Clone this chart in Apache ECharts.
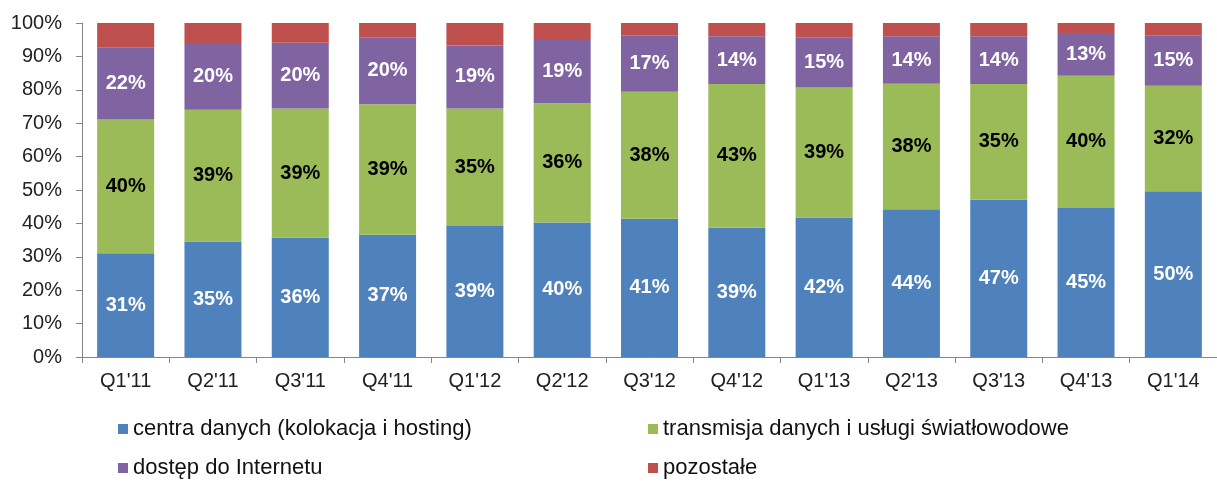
<!DOCTYPE html>
<html>
<head>
<meta charset="utf-8">
<script src="https://cdn.jsdelivr.net/npm/echarts@6/dist/echarts.min.js"></script>
<style>
html,body{margin:0;padding:0;background:#fff;}
#main{width:1217px;height:483px;}
</style>
</head>
<body>
<div id="main"></div>
<script>
// kwartały
var kwartaly=["Q1'11","Q2'11","Q3'11","Q4'11","Q1'12","Q2'12","Q3'12","Q4'12","Q1'13","Q2'13","Q3'13","Q4'13","Q1'14"];
// udział w przychodach (%)
var centraDanych=[31.1,34.6,35.7,36.6,39.2,40.3,41.4,38.7,41.8,44.2,47.1,44.6,49.6];
var transmisja=[40.0,39.4,38.7,39.1,35.2,35.7,38.0,43.0,38.9,37.6,34.6,39.6,31.6];
var dostep=[21.5,19.7,19.7,19.9,18.9,19.2,16.9,14.3,14.9,14.2,14.3,12.8,15.0];
var pozostale=[7.4,6.3,5.9,4.4,6.7,4.8,3.7,4.0,4.4,4.0,4.0,3.0,3.8];
var nazwy=["centra danych (kolokacja i hosting)","transmisja danych i usługi światłowodowe","dostęp do Internetu","pozostałe"];
var yTicks=["0%","10%","20%","30%","40%","50%","60%","70%","80%","90%","100%"];

var font='"Liberation Sans", Arial, sans-serif';

function etykieta(kolor){
	return {
		show:true,
		position:'inside',
		color:kolor,
		fontFamily:font,
		fontSize:20,
		fontWeight:'bold',
		formatter:function(p){return Math.round(p.value)+'%';}
	};
}

function legenda(nazwa,left,top){
	return {
		data:[nazwa],
		left:left,
		top:top,
		icon:'rect',
		itemWidth:10,
		itemHeight:10,
		selectedMode:false,
		textStyle:{fontFamily:font,fontSize:22,color:'#111'}
	};
}

var myChart=echarts.init(document.getElementById('main'));
var option={
	backgroundColor:'#fff',
	animation:false,
	color:['#4F81BD','#9BBB59','#8064A2','#C0504D'],
	legend:[
		legenda(nazwy[0],113,413),
		legenda(nazwy[1],643,413),
		legenda(nazwy[2],113,452),
		legenda(nazwy[3],643,452)
	],
	grid:{left:82,top:23,width:1140,bottom:126},
	xAxis:{
		type:'category',
		data:kwartaly,
		axisLine:{lineStyle:{color:'#868686'}},
		axisTick:{show:true,length:6,lineStyle:{color:'#868686'}},
		axisLabel:{color:'#222',fontFamily:font,fontSize:20,margin:14}
	},
	yAxis:{
		type:'value',
		min:0,
		max:100,
		interval:10,
		axisLine:{show:true,lineStyle:{color:'#868686'}},
		axisTick:{show:true,length:6,lineStyle:{color:'#868686'}},
		splitLine:{show:false},
		axisLabel:{
			color:'#222',fontFamily:font,fontSize:20,margin:20,
			formatter:function(v){return yTicks[Math.round(v/10)];}
		}
	},
	series:[
		{name:nazwy[0],type:'bar',stack:'s',barWidth:57,data:centraDanych,label:etykieta('#fff')},
		{name:nazwy[1],type:'bar',stack:'s',barWidth:57,data:transmisja,label:etykieta('#000')},
		{name:nazwy[2],type:'bar',stack:'s',barWidth:57,data:dostep,label:etykieta('#fff')},
		{name:nazwy[3],type:'bar',stack:'s',barWidth:57,data:pozostale,label:{show:false}}
	]
};
myChart.setOption(option);
</script>
</body>
</html>
